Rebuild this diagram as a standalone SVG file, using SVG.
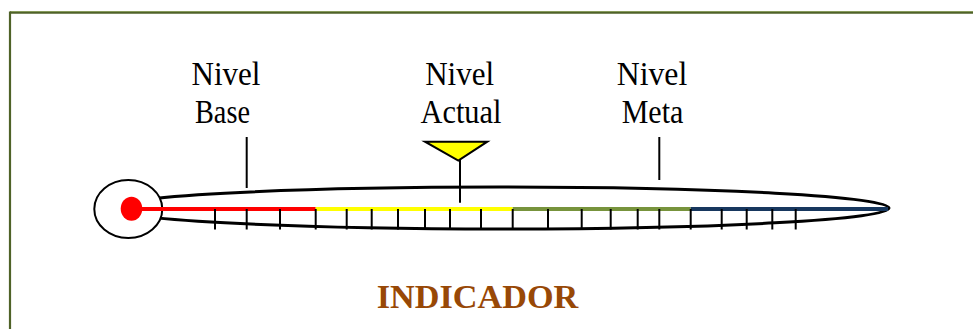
<svg xmlns="http://www.w3.org/2000/svg" width="973" height="329" viewBox="0 0 973 329">
<style>
.lbl{font-family:"Liberation Serif","Times New Roman",serif;font-size:34px;fill:#000;text-anchor:middle}
.title{font-family:"Liberation Serif","Times New Roman",serif;font-size:33px;font-weight:bold;fill:#984806;text-anchor:middle}
.tick{stroke:#000;stroke-width:2}
.ptr{stroke:#000;stroke-width:2}
</style>
<rect width="973" height="329" fill="#fff"/>
<g id="frame">
<line x1="10" y1="12.5" x2="973" y2="12.5" stroke="#4f6228" stroke-width="2.5"/>
<line x1="10" y1="11.5" x2="973" y2="11.5" stroke="#8aa05a" stroke-width="0.8"/>
<line x1="10" y1="11.5" x2="10" y2="329" stroke="#4f6228" stroke-width="2.2"/>
</g>
<g id="thermometer">
<ellipse cx="500" cy="208" rx="389" ry="21" fill="#fff" stroke="#000" stroke-width="3"/>
<ellipse cx="128.3" cy="209" rx="34" ry="29" fill="#fff" stroke="#000" stroke-width="2"/>
<line x1="131.5" y1="209" x2="315.7" y2="209" stroke="#ff0000" stroke-width="4"/>
<line x1="315.7" y1="209" x2="512.7" y2="209" stroke="#ffff00" stroke-width="4"/>
<line x1="512.7" y1="209" x2="690.7" y2="209" stroke="#77933c" stroke-width="4"/>
<line x1="690.7" y1="209" x2="888" y2="209" stroke="#17375e" stroke-width="4"/>
<ellipse cx="131.5" cy="208.7" rx="10.8" ry="12" fill="#ff0000"/>
</g>
<g id="ticks">
<line class="tick" x1="215" y1="209" x2="215" y2="229.5"/>
<line class="tick" x1="246.7" y1="209" x2="246.7" y2="229.5"/>
<line class="tick" x1="280" y1="209" x2="280" y2="229.5"/>
<line class="tick" x1="315.7" y1="209" x2="315.7" y2="229.5"/>
<line class="tick" x1="346.7" y1="209" x2="346.7" y2="229.5"/>
<line class="tick" x1="371.7" y1="209" x2="371.7" y2="229.5"/>
<line class="tick" x1="398" y1="209" x2="398" y2="229.5"/>
<line class="tick" x1="425" y1="209" x2="425" y2="229.5"/>
<line class="tick" x1="450" y1="209" x2="450" y2="229.5"/>
<line class="tick" x1="481" y1="209" x2="481" y2="229.5"/>
<line class="tick" x1="512.7" y1="209" x2="512.7" y2="229.5"/>
<line class="tick" x1="548" y1="209" x2="548" y2="229.5"/>
<line class="tick" x1="581.7" y1="209" x2="581.7" y2="229.5"/>
<line class="tick" x1="610.7" y1="209" x2="610.7" y2="229.5"/>
<line class="tick" x1="637.7" y1="209" x2="637.7" y2="229.5"/>
<line class="tick" x1="659.3" y1="209" x2="659.3" y2="229.5"/>
<line class="tick" x1="690.7" y1="209" x2="690.7" y2="229.5"/>
<line class="tick" x1="721.7" y1="209" x2="721.7" y2="229.5"/>
<line class="tick" x1="746.7" y1="209" x2="746.7" y2="229.5"/>
<line class="tick" x1="772.3" y1="209" x2="772.3" y2="229.5"/>
<line class="tick" x1="795.7" y1="209" x2="795.7" y2="229.5"/>
</g>
<g id="connectors">
<line class="ptr" x1="246.7" y1="137" x2="246.7" y2="188"/>
<line class="ptr" x1="460" y1="160" x2="460" y2="202.7"/>
<line class="ptr" x1="659.3" y1="137" x2="659.3" y2="180"/>
</g>
<g id="nivel-base">
<text class="lbl" x="226" y="85" textLength="69" lengthAdjust="spacingAndGlyphs">Nivel</text>
<text class="lbl" x="222.5" y="123" textLength="55" lengthAdjust="spacingAndGlyphs">Base</text>
</g>
<g id="nivel-actual">
<text class="lbl" x="459.7" y="85" textLength="69" lengthAdjust="spacingAndGlyphs">Nivel</text>
<text class="lbl" x="461" y="123" textLength="81" lengthAdjust="spacingAndGlyphs">Actual</text>
<polygon points="425,141.7 487.3,141.7 458.3,160.7" fill="#ffff00" stroke="#000" stroke-width="2" stroke-linejoin="miter"/>
</g>
<g id="nivel-meta">
<text class="lbl" x="652" y="85" textLength="70.6" lengthAdjust="spacingAndGlyphs">Nivel</text>
<text class="lbl" x="652.5" y="123" textLength="61.6" lengthAdjust="spacingAndGlyphs">Meta</text>
</g>
<g id="indicador">
<text class="title" x="477.5" y="307.7" textLength="201.6" lengthAdjust="spacingAndGlyphs">INDICADOR</text>
</g>
</svg>
